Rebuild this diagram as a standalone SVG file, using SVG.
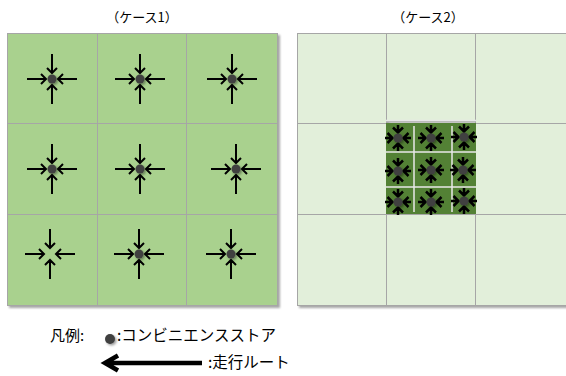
<svg xmlns="http://www.w3.org/2000/svg" xmlns:xlink="http://www.w3.org/1999/xlink" width="566" height="376" viewBox="0 0 566 376">
<style>
.t{font-family:"Noto Sans CJK JP","Liberation Sans",sans-serif;fill:#000}
.c1{fill:#A9D18E;stroke:#A6A6A6;stroke-width:1}
.c2{fill:#E2EFDA;stroke:#A6A6A6;stroke-width:1}
.ar{fill:none;stroke:#000;stroke-width:2;stroke-linecap:butt}
.sa{fill:none;stroke:#000;stroke-width:2.5}
.dot{fill:#404040}
.wl{stroke:#E8E8E8;stroke-width:1.5}
</style>
<defs>
<filter id="sh" x="-10%" y="-10%" width="130%" height="130%">
<feDropShadow dx="2" dy="2" stdDeviation="1.2" flood-color="#000" flood-opacity="0.35"/>
</filter>
<filter id="dsh" x="-60%" y="-60%" width="240%" height="240%">
<feDropShadow dx="1.5" dy="1.5" stdDeviation="1.2" flood-color="#000" flood-opacity="0.4"/>
</filter>
<g id="big">
<path class="ar" d="M0,-25 V-6 M-5,-11 L0,-6 L5,-11 M0,25 V6 M-5,11 L0,6 L5,11 M-25,0 H-6 M-11,-5 L-6,0 L-11,5 M25,0 H6 M11,-5 L6,0 L11,5"/>
</g>
<circle id="bdot" class="dot" r="4.5" filter="url(#dsh)"/>
<g id="small">
<path class="sa" d="M0,-13 V-6 M-5,-10.5 L0,-5.5 L5,-10.5 M0,13 V6 M-5,10.5 L0,5.5 L5,10.5 M-13,0 H-6 M-10.5,-5 L-5.5,0 L-10.5,5 M13,0 H6 M10.5,-5 L5.5,0 L10.5,5"/>
<circle class="dot" r="4.6" filter="url(#dsh)"/>
</g>
</defs>
<rect width="566" height="376" fill="#fff"/>

<text class="t" x="142" y="22" font-size="13" text-anchor="middle">（ケース1）</text>
<text class="t" x="428" y="22" font-size="13" text-anchor="middle">（ケース2）</text>

<g id="case1" filter="url(#sh)">
<g id="c1-11"><rect class="c1" x="7.5" y="33.5" width="90" height="90"/></g>
<g id="c1-12"><rect class="c1" x="97.5" y="33.5" width="89" height="90"/></g>
<g id="c1-13"><rect class="c1" x="186.5" y="33.5" width="91" height="90"/></g>
<g id="c1-21"><rect class="c1" x="7.5" y="123.5" width="90" height="91"/></g>
<g id="c1-22"><rect class="c1" x="97.5" y="123.5" width="89" height="91"/></g>
<g id="c1-23"><rect class="c1" x="186.5" y="123.5" width="91" height="91"/></g>
<g id="c1-31"><rect class="c1" x="7.5" y="214.5" width="90" height="91"/></g>
<g id="c1-32"><rect class="c1" x="97.5" y="214.5" width="89" height="91"/></g>
<g id="c1-33"><rect class="c1" x="186.5" y="214.5" width="91" height="91"/></g>
</g>

<g id="case2">
<g filter="url(#sh)">
<g id="c2-11"><rect class="c2" x="297.5" y="33.5" width="89" height="90"/></g>
<g id="c2-12"><rect class="c2" x="386.5" y="33.5" width="89" height="87"/></g>
<g id="c2-13"><rect class="c2" x="475.5" y="33.5" width="95" height="90"/></g>
<g id="c2-21"><rect class="c2" x="297.5" y="123.5" width="89" height="91"/></g>
<g id="c2-23"><rect class="c2" x="475.5" y="123.5" width="95" height="91"/></g>
<g id="c2-31"><rect class="c2" x="297.5" y="214.5" width="89" height="91"/></g>
<g id="c2-32"><rect class="c2" x="386.5" y="214.5" width="89" height="91"/></g>
<g id="c2-33"><rect class="c2" x="475.5" y="214.5" width="95" height="91"/></g>
</g>
<g id="c2-22">
<rect x="386" y="123" width="90" height="91" fill="#538135"/>
<line class="wl" x1="386" y1="120.5" x2="476" y2="120.5"/>
<line class="wl" x1="414" y1="126" x2="414" y2="212"/>
<line class="wl" x1="452" y1="126" x2="452" y2="212"/>
<line class="wl" x1="386" y1="152" x2="476" y2="152"/>
<line class="wl" x1="386" y1="187" x2="476" y2="187"/>
</g>
</g>

<g id="connectors">
<use xlink:href="#big" x="52" y="79"/>
<use xlink:href="#big" x="140" y="79"/>
<use xlink:href="#big" x="232" y="79"/>
<use xlink:href="#big" x="52" y="169"/>
<use xlink:href="#big" x="140" y="169"/>
<use xlink:href="#big" x="236" y="169"/>
<use xlink:href="#big" x="50" y="254"/>
<use xlink:href="#big" x="139" y="254"/>
<use xlink:href="#big" x="231" y="254"/>
<use xlink:href="#small" x="398" y="138"/>
<use xlink:href="#small" x="431" y="138"/>
<use xlink:href="#small" x="464" y="137"/>
<use xlink:href="#small" x="398" y="171"/>
<use xlink:href="#small" x="431" y="170"/>
<use xlink:href="#small" x="463" y="170"/>
<use xlink:href="#small" x="398" y="202"/>
<use xlink:href="#small" x="431" y="202"/>
<use xlink:href="#small" x="464" y="201"/>
</g>

<g id="stores">
<use xlink:href="#bdot" x="52" y="79"/>
<use xlink:href="#bdot" x="140" y="79"/>
<use xlink:href="#bdot" x="232" y="79"/>
<use xlink:href="#bdot" x="52" y="169"/>
<use xlink:href="#bdot" x="140" y="169"/>
<use xlink:href="#bdot" x="236" y="169"/>
<use xlink:href="#bdot" x="139" y="254"/>
<use xlink:href="#bdot" x="231" y="254"/>
</g>

<g id="legend">
<text class="t" x="50" y="341" font-size="15">凡例:</text>
<circle class="dot" cx="110" cy="339" r="5" filter="url(#dsh)"/>
<text class="t" x="117" y="341" font-size="15.5">:コンビニエンスストア</text>
<path d="M118,355.5 L105,363 L118,370.5 M106,363 H202" fill="none" stroke="#000" stroke-width="4.5"/>
<text class="t" x="208" y="368" font-size="15.5">:走行ルート</text>
</g>
</svg>
